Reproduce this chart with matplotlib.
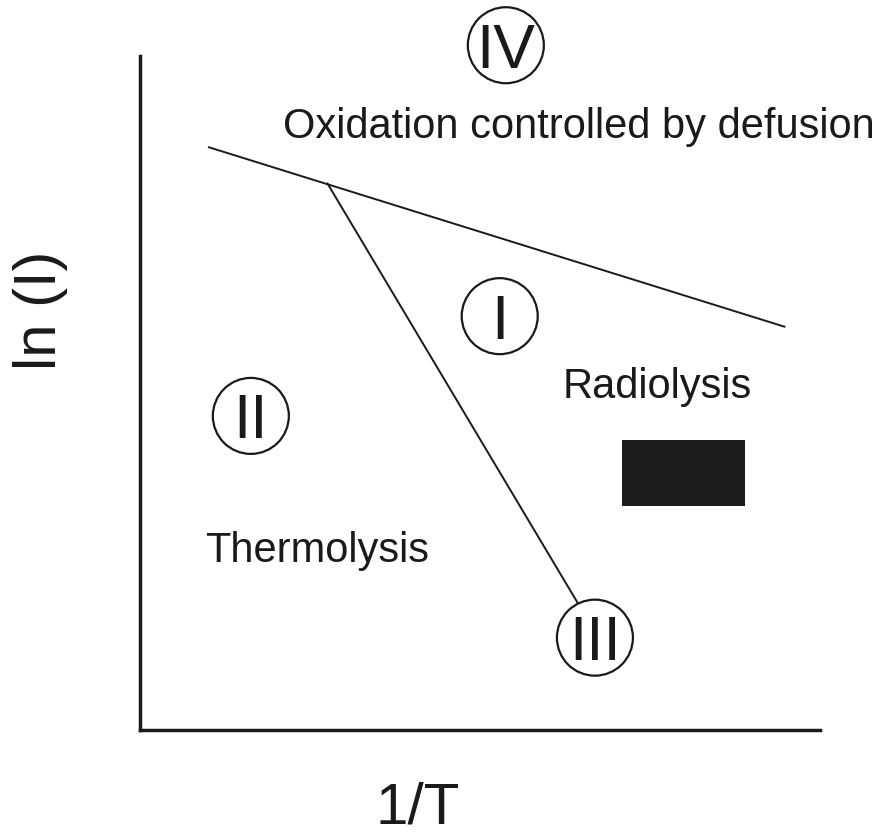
import matplotlib
matplotlib.use("Agg")
import matplotlib.pyplot as plt
from matplotlib.patches import Ellipse, Rectangle

plt.rcParams['font.family'] = ['Liberation Sans', 'DejaVu Sans']

# ---- data (axis units 0..10) ----
line_upper_x = [1.0, 9.49]
line_upper_y = [8.65, 5.98]
line_lower_x = [2.75, 6.44]
line_lower_y = [8.12, 1.88]

region_labels = ["IV", "I", "II", "III"]
region_x = [5.38, 5.29, 1.63, 6.69]
region_y = [10.16, 6.14, 4.66, 1.37]

text_labels = ["Oxidation controlled by defusion", "Radiolysis", "Thermolysis"]
text_x = [2.10, 6.22, 0.96]
text_y = [8.78, 4.93, 2.49]

box_x = [7.09, 8.90]
box_y = [3.32, 4.30]

x_label = "1/T"
y_label = "ln (I)"

W, H = 883, 839
fig = plt.figure(figsize=(W / 100, H / 100), dpi=100)
left, right, top, bottom = 140, 820, 56, 730
ax = fig.add_axes([left / W, (H - bottom) / H, (right - left) / W, (bottom - top) / H])
ax.set_xlim(0, 10)
ax.set_ylim(0, 10)
for s in ['top', 'right']:
    ax.spines[s].set_visible(False)
for s in ['left', 'bottom']:
    ax.spines[s].set_linewidth(2.5)
    ax.spines[s].set_color('#1a1a1a')
ax.set_xticks([])
ax.set_yticks([])

ink = '#1a1a1a'
ax.plot(line_upper_x, line_upper_y, color=ink, lw=1.4, solid_capstyle='butt')
ax.plot(line_lower_x, line_lower_y, color=ink, lw=1.4, solid_capstyle='butt')

ax.add_patch(Rectangle((box_x[0], box_y[0]), box_x[1] - box_x[0], box_y[1] - box_y[0],
                       facecolor='#1c1c1c', edgecolor='none'))

r_px = 38
rx = r_px / ((right - left) / 10)
ry = r_px / ((bottom - top) / 10)
fs_num = 45
for lab, x, y in zip(region_labels, region_x, region_y):
    ax.add_patch(Ellipse((x, y), 2 * rx, 2 * ry, facecolor='none', edgecolor=ink,
                         lw=1.6, clip_on=False))
    ax.annotate(lab, (x, y), xytext=(0, -0.716 * fs_num / 2), textcoords='offset points',
                ha='center', va='baseline', fontsize=fs_num, color=ink, annotation_clip=False)

for lab, x, y in zip(text_labels, text_x, text_y):
    ax.text(x, y, lab, ha='left', va='baseline', fontsize=30, color=ink, clip_on=False)

fig.text(418 / W, 1 - 823 / H, x_label, ha='center', va='baseline', fontsize=42, color=ink)
fig.text(41 / W, 1 - 310 / H, y_label, ha='center', va='center', rotation=90,
         fontsize=43, color=ink)

fig.savefig("out.png", dpi=100)
